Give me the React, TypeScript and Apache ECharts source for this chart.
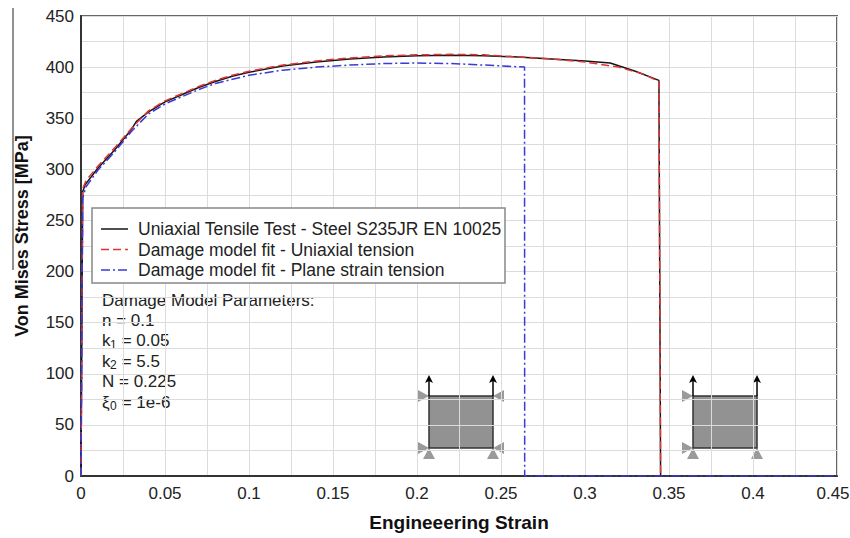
import React, { useEffect, useRef } from "react";
import * as echarts from "echarts";

const xTicks = [0, 0.05, 0.1, 0.15, 0.2, 0.25, 0.3, 0.35, 0.4, 0.45];
const yTicks = [0, 50, 100, 150, 200, 250, 300, 350, 400, 450];

const seriesNames = [
  "Uniaxial Tensile Test - Steel S235JR EN 10025",
  "Damage model fit - Uniaxial tension",
  "Damage model fit - Plane strain tension",
];
const seriesColors = ["#151515", "#e03535", "#3a3ad8"];
const seriesDash: (number[] | null)[] = [null, [8, 4], [9, 3, 2, 3]];

const expStrain = [0, 0.001, 0.0025, 0.01, 0.02, 0.03, 0.033, 0.04, 0.05, 0.06, 0.07, 0.08, 0.09, 0.1, 0.12, 0.14, 0.16, 0.18, 0.2, 0.22, 0.24, 0.26, 0.28, 0.3, 0.315, 0.33, 0.344, 0.345];
const expStress = [0, 278, 285, 301, 319, 339, 347, 356, 366, 373, 380, 386, 391, 395, 401, 405, 408, 410, 411, 411.5, 411, 410, 408, 406, 404, 396, 387, 0];

const uniStrain = [0, 0.001, 0.003, 0.01, 0.02, 0.03, 0.04, 0.05, 0.06, 0.07, 0.08, 0.09, 0.1, 0.12, 0.14, 0.16, 0.18, 0.2, 0.22, 0.24, 0.26, 0.28, 0.3, 0.32, 0.335, 0.344, 0.345];
const uniStress = [0, 281, 289, 303, 321, 340, 357, 367, 374, 381, 387, 392, 396, 402, 406, 409, 411, 412, 412.5, 412, 410, 408, 405, 400, 393, 386, 0];

const psStrain = [0, 0.001, 0.003, 0.01, 0.02, 0.03, 0.04, 0.05, 0.06, 0.07, 0.08, 0.1, 0.12, 0.14, 0.16, 0.18, 0.2, 0.22, 0.24, 0.264, 0.2641, 0.45];
const psStress = [0, 272, 283, 299, 317, 337, 354, 364, 371, 378, 384, 392, 397, 400, 402, 403.5, 404, 403.5, 402, 400, 0, 0];

const params = [
  { main: "Damage Model Parameters:", sub: "", rest: "" },
  { main: "n = 0.1", sub: "", rest: "" },
  { main: "k", sub: "1", rest: " = 0.05" },
  { main: "k", sub: "2", rest: " = 5.5" },
  { main: "N = 0.225", sub: "", rest: "" },
  { main: "ξ", sub: "0", rest: " = 1e-6" },
];

const zip = (xs: number[], ys: number[]) => xs.map((x, i) => [x, ys[i]]);

const FONT = "'Liberation Sans', Arial, sans-serif";
const GRAY = "#9a9a9a";

function tri(points: number[][]) {
  return { type: "polygon", shape: { points }, style: { fill: GRAY }, silent: true };
}
function arrow(x: number, yTop: number, yBase: number) {
  return [
    { type: "line", shape: { x1: x, y1: yBase, x2: x, y2: yTop + 4 }, style: { stroke: "#000", lineWidth: 1.5 } },
    { type: "polygon", shape: { points: [[x, yTop], [x - 4, yTop + 8], [x, yTop + 6], [x + 4, yTop + 8]] }, style: { fill: "#000" } },
  ];
}

function buildGraphics() {
  const g: any[] = [];
  g.push({ type: "line", shape: { x1: 13, y1: 8, x2: 13, y2: 270 }, style: { stroke: "#222", lineWidth: 1 } });
  g.push({
    type: "text",
    x: 22,
    y: 236,
    rotation: Math.PI / 2,
    style: { text: "Von Mises Stress [MPa]", font: `bold 18px ${FONT}`, fill: "#111", align: "center", verticalAlign: "middle" },
  });
  // legend
  g.push({ type: "rect", shape: { x: 92, y: 208, width: 413, height: 75 }, style: { fill: "#fff", stroke: "#888", lineWidth: 1.5 }, z: 10 });
  seriesNames.forEach((name, i) => {
    const y = 229 + i * 20.5;
    g.push({
      type: "line",
      shape: { x1: 101, y1: y, x2: 128, y2: y },
      style: { stroke: seriesColors[i], lineWidth: 1.5, lineDash: seriesDash[i] || undefined },
      z: 11,
    });
    g.push({ type: "text", x: 138, y, style: { text: name, font: `17.5px ${FONT}`, fill: "#222", verticalAlign: "middle" }, z: 11 });
  });
  // parameters
  params.forEach((p, i) => {
    const y = 300 + i * 20.4;
    g.push({ type: "text", x: 102, y, style: { text: p.main, font: `17px ${FONT}`, fill: "#222", verticalAlign: "middle" } });
    if (p.sub) {
      g.push({ type: "text", x: 110, y: y + 4, style: { text: p.sub, font: `12px ${FONT}`, fill: "#222", verticalAlign: "middle" } });
      g.push({ type: "text", x: 117, y, style: { text: p.rest, font: `17px ${FONT}`, fill: "#222", verticalAlign: "middle" } });
    }
  });
  // icon 1 (plane strain)
  const a = { l: 429, r: 493, t: 396, b: 448 };
  g.push(tri([[418, 390], [429, 396], [418, 402]]));
  g.push(tri([[504, 390], [493, 396], [504, 402]]));
  g.push(tri([[418, 442], [429, 448], [418, 454]]));
  g.push(tri([[504, 442], [493, 448], [504, 454]]));
  g.push(tri([[429, 448], [423, 459], [435, 459]]));
  g.push(tri([[493, 448], [487, 459], [499, 459]]));
  g.push({ type: "rect", shape: { x: a.l, y: a.t, width: a.r - a.l, height: a.b - a.t }, style: { fill: "#929292", stroke: "#333", lineWidth: 1.5 } });
  g.push(...arrow(a.l, 375, a.t));
  g.push(...arrow(a.r, 375, a.t));
  // icon 2 (uniaxial)
  const c = { l: 693, r: 757, t: 396, b: 448 };
  g.push(tri([[682, 390], [693, 396], [682, 402]]));
  g.push(tri([[682, 442], [693, 448], [682, 454]]));
  g.push(tri([[693, 448], [687, 459], [699, 459]]));
  g.push(tri([[757, 448], [751, 459], [763, 459]]));
  g.push({ type: "rect", shape: { x: c.l, y: c.t, width: c.r - c.l, height: c.b - c.t }, style: { fill: "#929292", stroke: "#333", lineWidth: 1.5 } });
  g.push(...arrow(c.l, 375, c.t));
  g.push(...arrow(c.r, 375, c.t));
  return g;
}

export default function App() {
  const ref = useRef<HTMLDivElement>(null);
  useEffect(() => {
    document.body.style.margin = "0";
    document.body.style.overflow = "hidden";
    if (!ref.current) return;
    const chart = echarts.init(ref.current, undefined, { renderer: "svg" });
    const gridLine = { show: true, lineStyle: { color: "#dcdcdc", width: 1 } };
    const xMax = xTicks[xTicks.length - 1];
    chart.setOption({
      animation: false,
      backgroundColor: "#fff",
      grid: {
        left: 81,
        right: 13,
        top: 16,
        bottom: 62,
        show: true,
        borderColor: "#666",
        borderWidth: 2,
        outerBoundsMode: "none",
        containLabel: false,
      },
      xAxis: {
        type: "value",
        min: xTicks[0],
        max: xMax,
        interval: 0.05,
        name: "Engineeering Strain",
        nameLocation: "middle",
        nameGap: 37,
        nameMoveOverlap: false,
        nameTextStyle: { fontFamily: FONT, fontWeight: "bold", fontSize: 19, color: "#111" },
        axisLine: { show: true, lineStyle: { color: "#333", width: 2 } },
        axisTick: { show: false },
        axisLabel: {
          fontFamily: FONT,
          fontSize: 17,
          color: "#222",
          margin: 9,
          formatter: (v: number) => (Math.abs(v - xMax) < 1e-9 ? `{last|${v}}` : `${v}`),
          rich: { last: { fontFamily: FONT, fontSize: 17, color: "#222", padding: [0, 8, 0, 0] } },
        },
        splitLine: gridLine,
        minorTick: { show: false, splitNumber: 2 },
        minorSplitLine: gridLine,
      },
      yAxis: {
        type: "value",
        min: yTicks[0],
        max: yTicks[yTicks.length - 1],
        interval: 50,
        axisLine: { show: true, lineStyle: { color: "#333", width: 2 } },
        axisTick: { show: false },
        axisLabel: { fontFamily: FONT, fontSize: 17, color: "#222", margin: 7 },
        splitLine: gridLine,
        minorTick: { show: false, splitNumber: 2 },
        minorSplitLine: gridLine,
      },
      series: [
        {
          name: seriesNames[0],
          type: "line",
          data: zip(expStrain, expStress),
          symbol: "none",
          lineStyle: { color: seriesColors[0], width: 1.5, type: "solid" },
          z: 3,
        },
        {
          name: seriesNames[1],
          type: "line",
          data: zip(uniStrain, uniStress),
          symbol: "none",
          lineStyle: { color: seriesColors[1], width: 1.5, type: seriesDash[1] },
          z: 4,
        },
        {
          name: seriesNames[2],
          type: "line",
          data: zip(psStrain, psStress),
          symbol: "none",
          lineStyle: { color: seriesColors[2], width: 1.5, type: seriesDash[2] },
          z: 5,
        },
      ],
      graphic: buildGraphics(),
    });
    return () => chart.dispose();
  }, []);
  return <div ref={ref} style={{ position: "absolute", left: 0, top: 0, width: 850, height: 538 }} />;
}
